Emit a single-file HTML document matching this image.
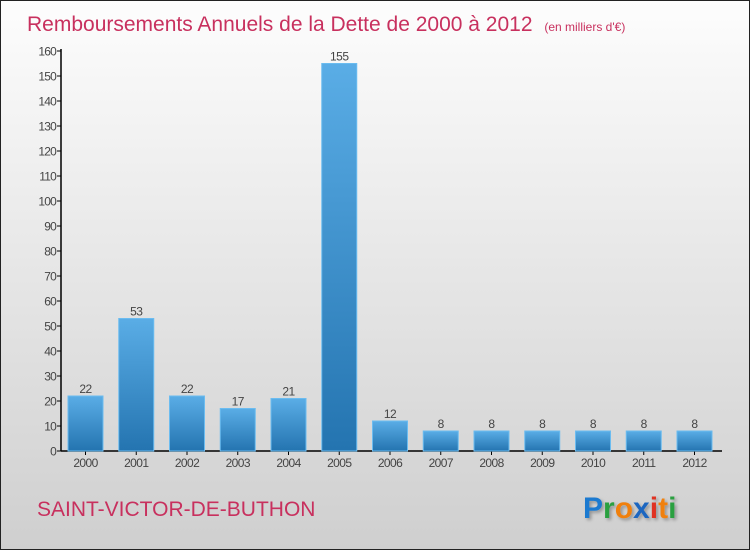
<!DOCTYPE html>
<html><head><meta charset="utf-8"><style>
html,body{margin:0;padding:0}
body{width:750px;height:550px;overflow:hidden;font-family:"Liberation Sans",sans-serif}
#wrap{position:relative;width:748px;height:548px;border:1px solid #222;background:linear-gradient(#fdfdfd,#cfcfcf)}
</style></head><body>
<div id="wrap">
<svg id="chart" width="748" height="548">
<defs>
<linearGradient id="bg" x1="0" y1="0" x2="0" y2="1"><stop offset="0" stop-color="#5aade6"/><stop offset="1" stop-color="#2474b0"/></linearGradient>
<filter id="sh"><feDropShadow dx="2" dy="2" stdDeviation="1.5" flood-color="#000" flood-opacity="0.3"/></filter>
</defs>
<text x="26" y="30" font-size="21" fill="#c8305e">Remboursements Annuels de la Dette de 2000 à 2012 <tspan font-size="12" dx="6">(en milliers d'€)</tspan></text>
<g id="axes"></g>
<g id="bars"></g>
<text x="36" y="515" font-size="21" fill="#c8305e">SAINT-VICTOR-DE-BUTHON</text>
<g filter="url(#sh)" font-size="30" font-weight="bold">
<text x="582" y="517"><tspan fill="#1a7ad0">P</tspan><tspan fill="#2aa040">r</tspan><tspan fill="#f08010">o</tspan><tspan fill="#1a66c0">x</tspan><tspan fill="#e03020">i</tspan><tspan fill="#f08010">t</tspan><tspan fill="#2aa040">i</tspan></text>
</g>
</svg>
</div>
<script>
const years=["2000","2001","2002","2003","2004","2005","2006","2007","2008","2009","2010","2011","2012"];
const values=[22,53,22,17,21,155,12,8,8,8,8,8,8];
const yTicks=[0,10,20,30,40,50,60,70,80,90,100,110,120,130,140,150,160];
const NS="http://www.w3.org/2000/svg";
const y0=450,yMax=160,pxPer=400/yMax;
function yPos(v){return y0-v*pxPer;}
function xLeft(i){return 67+i*50.75;}
const bw=35;
function mk(t,a,p){const e=document.createElementNS(NS,t);for(const k in a)e.setAttribute(k,a[k]);p.appendChild(e);return e;}
const ax=document.getElementById('axes'),bars=document.getElementById('bars');
const yl=mk('line',{x1:60,y1:48,x2:60,y2:450,stroke:'#000','stroke-width':1.5},ax);


const xl=mk('line',{x1:60,y1:450,x2:721,y2:450,stroke:'#000','stroke-width':1.5},ax);


yTicks.forEach(v=>{
 const y=yPos(v);
 mk('line',{x1:56,y1:y,x2:60,y2:y,stroke:'#000'},ax);
 const t=mk('text',{x:55,y:y+4.5,'font-size':12,fill:'#444','text-anchor':'end','letter-spacing':'-0.8'},ax);
 t.textContent=v;
 
 
});
values.forEach((v,i)=>{
 const x=xLeft(i),y=yPos(v);
 const r=mk('rect',{x:x,y:y,width:bw,height:y0-y,fill:'url(#bg)',stroke:'#6bbcf0','stroke-width':1},bars);
 
 
 const t=mk('text',{x:x+bw/2,y:y-3,'font-size':12,fill:'#444','text-anchor':'middle','letter-spacing':'-0.5'},bars);
 t.textContent=v;
 
 
 mk('line',{x1:x+bw/2,y1:450,x2:x+bw/2,y2:454,stroke:'#000'},ax);
 const xt=mk('text',{x:x+bw/2,y:466,'font-size':12,fill:'#444','text-anchor':'middle','letter-spacing':'-0.6'},ax);
 xt.textContent=years[i];
 
 
});
</script>
</body></html>
